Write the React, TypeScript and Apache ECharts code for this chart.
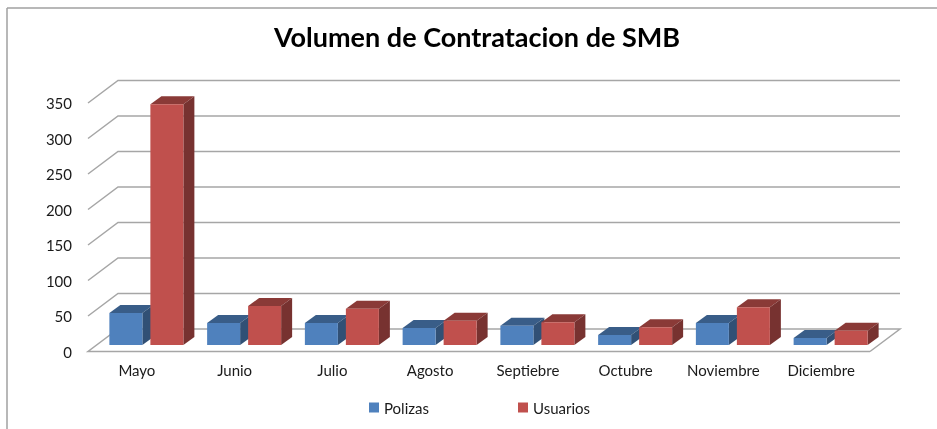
import React, { useEffect, useRef } from "react";
import * as echarts from "echarts";

const months = ["Mayo", "Junio", "Julio", "Agosto", "Septiebre", "Octubre", "Noviembre", "Diciembre"];
const polizas = [45, 31, 31, 24, 27, 14, 31, 10];
const usuarios = [339, 55, 51, 34, 32, 25, 53, 20];
const gridTicks = [0, 50, 100, 150, 200, 250, 300, 350];

const DEPTH_X = 30;
const DEPTH_Y = 22.5;
const BAR_W = 33;
const BAR_GAP = 8;
const BAR_DX = 11;
const BAR_DY = 8;
const BASE_X = 9.5;
const BASE_Y = 6.5;
const LINE = "#a6a6a6";
const FONT = "Lato, Carlito, 'Open Sans', sans-serif";

function shade(hex: string, f: number) {
  const n = parseInt(hex.slice(1), 16);
  const c = [(n >> 16) & 255, (n >> 8) & 255, n & 255].map((v) => Math.round(v * f));
  return `rgb(${c[0]},${c[1]},${c[2]})`;
}

function barRenderer(side: -1 | 1) {
  return (params: any, api: any) => {
    const cat = api.value(0);
    const [cx, y0] = api.coord([cat, 0]);
    const [, y1] = api.coord([cat, api.value(1)]);
    const color = api.visual("color");
    const center = cx + BASE_X;
    const l = side < 0 ? center - BAR_GAP / 2 - BAR_W : center + BAR_GAP / 2;
    const r = l + BAR_W;
    const b = y0 - BASE_Y;
    const t = y1 - BASE_Y;
    return {
      type: "group",
      children: [
        {
          type: "polygon",
          shape: { points: [[l, t], [r, t], [r + BAR_DX, t - BAR_DY], [l + BAR_DX, t - BAR_DY]] },
          style: { fill: shade(color, 0.72) },
        },
        {
          type: "polygon",
          shape: { points: [[r, t], [r + BAR_DX, t - BAR_DY], [r + BAR_DX, b - BAR_DY], [r, b]] },
          style: { fill: shade(color, 0.62) },
        },
        {
          type: "rect",
          shape: { x: l, y: t, width: BAR_W, height: b - t },
          style: { fill: color },
        },
      ],
    };
  };
}

function wallRenderer(params: any, api: any) {
  const tick = api.value(0);
  const n = months.length;
  const half = api.size([1, 0])[0] / 2;
  const [c0, y] = api.coord([0, tick]);
  const [c1] = api.coord([n - 1, tick]);
  const xl = c0 - half;
  const xr = c1 + half;
  const lineStyle = { stroke: LINE, lineWidth: 1.5, fill: "none" };
  const pts: number[][] =
    tick === 0
      ? [[xr, y], [xl, y], [xl + DEPTH_X, y - DEPTH_Y], [xr + DEPTH_X, y - DEPTH_Y], [xr, y]]
      : [[xl, y], [xl + DEPTH_X, y - DEPTH_Y], [xr + DEPTH_X, y - DEPTH_Y]];
  return { type: "polyline", shape: { points: pts }, style: lineStyle };
}

export default function App() {
  const ref = useRef<HTMLDivElement>(null);
  useEffect(() => {
    const chart = echarts.init(ref.current!, null, { renderer: "svg" });
    chart.setOption({
      animation: false,
      backgroundColor: "#ffffff",
      title: {
        text: "Volumen de Contratacion de SMB",
        left: 472,
        top: 18,
        textAlign: "center",
        textStyle: { fontFamily: FONT, fontSize: 27, fontWeight: "bold", color: "#000000" },
      },
      legend: {
        left: 364,
        top: 395,
        itemWidth: 10,
        itemHeight: 10,
        itemGap: 89,
        icon: "rect",
        data: ["Polizas", "Usuarios"],
        textStyle: { fontFamily: FONT, fontSize: 15, color: "#1a1a1a" },
      },
      grid: { left: 88, right: 67, top: 103, bottom: 77.5 },
      xAxis: {
        type: "category",
        data: months,
        axisLine: { show: false },
        axisTick: { show: false },
        axisLabel: { fontFamily: FONT, fontSize: 15, color: "#1a1a1a", margin: 11, interval: 0 },
      },
      yAxis: {
        type: "value",
        min: 0,
        max: 350,
        interval: 50,
        splitLine: { show: false },
        axisLine: { show: false },
        axisTick: { show: false },
        axisLabel: { fontFamily: FONT, fontSize: 15, color: "#1a1a1a", margin: 16, padding: [0, 0, 2, 0] },
      },
      graphic: [
        { type: "line", shape: { x1: 7, y1: 8, x2: 937, y2: 8 }, style: { stroke: "#a0a0a0", lineWidth: 1.5 } },
        { type: "line", shape: { x1: 7, y1: 8, x2: 7, y2: 429 }, style: { stroke: "#a0a0a0", lineWidth: 1.5 } },
      ],
      series: [
        {
          name: "walls",
          type: "custom",
          silent: true,
          clip: false,
          z: 1,
          renderItem: wallRenderer,
          encode: { y: 0 },
          data: gridTicks.map((t) => [t]),
          tooltip: { show: false },
        },
        {
          name: "Polizas",
          type: "custom",
          clip: false,
          z: 2,
          itemStyle: { color: "#4f81bd" },
          renderItem: barRenderer(-1),
          encode: { x: 0, y: 1 },
          data: polizas.map((v, i) => [i, v]),
        },
        {
          name: "Usuarios",
          type: "custom",
          clip: false,
          z: 3,
          itemStyle: { color: "#c0504d" },
          renderItem: barRenderer(1),
          encode: { x: 0, y: 1 },
          data: usuarios.map((v, i) => [i, v]),
        },
      ],
    });
    return () => chart.dispose();
  }, []);
  return (
    <div
      ref={ref}
      style={{ position: "absolute", left: 0, top: 0, width: 937, height: 429, filter: "blur(0.4px)" }}
    />
  );
}
